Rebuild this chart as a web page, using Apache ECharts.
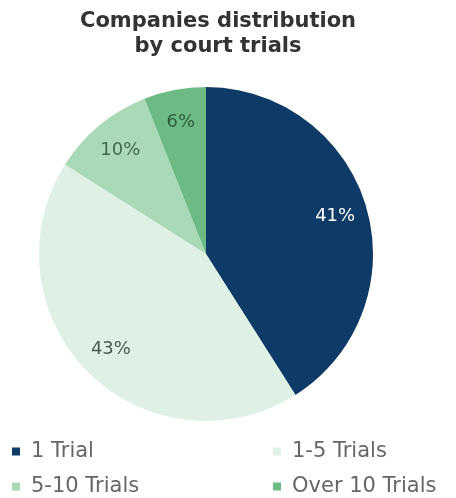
<!DOCTYPE html>
<html>
<head>
<meta charset="utf-8">
<script src="https://cdn.jsdelivr.net/npm/echarts@6/dist/echarts.min.js"></script>
<style>
  html, body { margin: 0; padding: 0; background: #ffffff; }
  #chart { width: 456px; height: 498px; }
</style>
</head>
<body>
<div id="chart"></div>
<script>
// Share of companies by number of court trials (%)
const categories = ['1 Trial', '1-5 Trials', '5-10 Trials', 'Over 10 Trials'];
const shares = [41, 43, 10, 6];
const sliceColors = ['#0d3a66', '#dff1e4', '#a9d9b6', '#6cba84'];
const labelColors = ['#ffffff', '#4d5a52', '#3f6a4c', '#2f5e3e'];

const font = '"DejaVu Sans", "Noto Sans", sans-serif';
const pieData = categories.map((name, i) => ({
  name: name,
  value: shares[i],
  itemStyle: { color: sliceColors[i] }
}));
const labelData = categories.map((name, i) => ({
  name: name,
  value: shares[i],
  label: { color: labelColors[i] }
}));

const legendBase = {
  orient: 'vertical',
  top: 441,
  padding: 0,
  itemGap: 14,
  itemWidth: 8,
  itemHeight: 8,
  icon: 'rect',
  selectedMode: false,
  textStyle: { fontFamily: font, fontSize: 21, color: '#666666', padding: [0, 0, 0, 6] }
};

const chart = echarts.init(document.getElementById('chart'), null, { renderer: 'canvas' });
chart.setOption({
  animation: false,
  backgroundColor: '#ffffff',
  title: {
    text: 'Companies distribution\nby court trials',
    left: 218,
    textAlign: 'center',
    top: 9,
    padding: 0,
    textStyle: {
      fontFamily: font,
      fontSize: 21,
      fontWeight: 'bold',
      color: '#333333',
      lineHeight: 25
    }
  },
  legend: [
    Object.assign({}, legendBase, { data: ['1 Trial', '5-10 Trials'], left: 12 }),
    Object.assign({}, legendBase, { data: ['1-5 Trials', 'Over 10 Trials'], left: 273 })
  ],
  series: [
    {
      name: 'trials',
      type: 'pie',
      center: [206, 254],
      radius: [0, 167],
      startAngle: 90,
      clockwise: true,
      label: { show: false },
      labelLine: { show: false },
      emphasis: { disabled: true },
      itemStyle: { borderWidth: 0 },
      data: pieData
    },
    {
      name: 'trials-labels',
      type: 'pie',
      center: [206, 254],
      radius: [96, 167],
      startAngle: 90,
      clockwise: true,
      silent: true,
      legendHoverLink: false,
      itemStyle: { color: 'rgba(0,0,0,0)', borderWidth: 0 },
      emphasis: { disabled: true },
      label: {
        show: true,
        position: 'inside',
        formatter: '{c}%',
        fontFamily: font,
        fontSize: 18,
        fontWeight: 'normal'
      },
      labelLine: { show: false },
      data: labelData
    }
  ]
});
</script>
</body>
</html>
